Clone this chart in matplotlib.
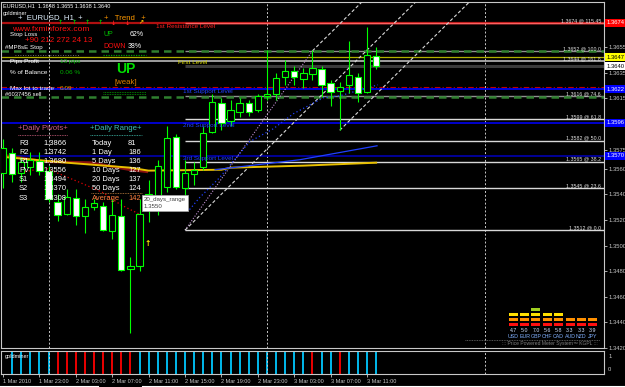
import matplotlib
matplotlib.use("Agg")
import matplotlib.pyplot as plt
from matplotlib.patches import Rectangle
from matplotlib.transforms import blended_transform_factory

plt.rcParams['font.family'] = ['Liberation Sans Narrow', 'Liberation Sans', 'DejaVu Sans']

W, H = 625, 387

# ---------------- data ----------------
symbol = "EURUSD"
period = "H1"

opens = [1.3557, 1.3572, 1.3557, 1.3561, 1.3566, 1.3558, 1.3534, 1.3525, 1.3537, 1.3523,
         1.3530, 1.3531, 1.3511, 1.3523, 1.3482, 1.3484, 1.3532, 1.3538, 1.3546, 1.3585,
         1.3545, 1.3556, 1.3561, 1.3589, 1.3611, 1.3597, 1.3604, 1.3611, 1.3606, 1.3617,
         1.3618, 1.3632, 1.3636, 1.3630, 1.3634, 1.3638, 1.3627, 1.3621, 1.3625, 1.3632,
         1.3620, 1.3648]
highs = [1.3583, 1.3576, 1.3569, 1.3573, 1.3573, 1.3562, 1.3540, 1.3544, 1.3544, 1.3536,
         1.3536, 1.3534, 1.3536, 1.3536, 1.3491, 1.3536, 1.3551, 1.3567, 1.3593, 1.3587,
         1.3567, 1.3565, 1.3593, 1.3618, 1.3615, 1.3614, 1.3615, 1.3614, 1.3618, 1.3653,
         1.3635, 1.3645, 1.3640, 1.3639, 1.3653, 1.3640, 1.3629, 1.3628, 1.3660, 1.3635,
         1.3671, 1.3655]
lows = [1.3545, 1.3550, 1.3550, 1.3555, 1.3555, 1.3534, 1.3519, 1.3524, 1.3516, 1.3510,
        1.3528, 1.3511, 1.3505, 1.3480, 1.3432, 1.3480, 1.3518, 1.3524, 1.3542, 1.3544,
        1.3536, 1.3547, 1.3559, 1.3588, 1.3590, 1.3593, 1.3600, 1.3601, 1.3604, 1.3614,
        1.3614, 1.3625, 1.3625, 1.3623, 1.3629, 1.3616, 1.3609, 1.3590, 1.3619, 1.3612,
        1.3619, 1.3638]
closes = [1.3576, 1.3556, 1.3565, 1.3567, 1.3558, 1.3536, 1.3524, 1.3538, 1.3523, 1.3530,
          1.3533, 1.3512, 1.3524, 1.3481, 1.3484, 1.3525, 1.3540, 1.3562, 1.3584, 1.3546,
          1.3557, 1.3559, 1.3588, 1.3612, 1.3596, 1.3606, 1.3611, 1.3604, 1.3617, 1.3618,
          1.3631, 1.3636, 1.3632, 1.3635, 1.3639, 1.3625, 1.3620, 1.3624, 1.3633, 1.3619,
          1.3649, 1.3640]

time_ticks = [0, 4, 8, 12, 16, 20, 24, 28, 32, 36, 40]
time_labels = ["1 Mar 2010", "1 Mar 23:00", "2 Mar 03:00", "2 Mar 07:00", "2 Mar 11:00",
               "2 Mar 15:00", "2 Mar 19:00", "2 Mar 23:00", "3 Mar 03:00", "3 Mar 07:00",
               "3 Mar 11:00"]
day_starts = [5, 29, 53]

# goldminer sub-window: 1 = up (cyan), -1 = down (red), 0 = nothing
goldminer = [0, 1, 1, 1, 1, 1, -1, -1, -1, -1, -1, -1, -1, -1, -1, 1, 1, 1, 1, 1,
             1, 1, 1, 1, 1, 1, 1, 1, 1, 1, 1, 1, 1, 1, -1, 1, 1, -1, 1, 1, 1, 1]

# fibonacci retracement / pitchfork anchors (bar, price)
fib_a = (20, 1.3512)
fib_b = (34, 1.3652)
pitch_c = (37, 1.3590)
fib_levels = [0.0, 23.6, 38.2, 50.0, 61.8, 74.6, 100.0, 115.45]
extra_level = (1.3644, "161.8")

res1 = 1.3674
first_level = 1.3647
sup_levels = [1.3622, 1.3596, 1.3570]
sup_names = ["1st Support Level", "2nd Support Level", "3rd Support Level"]
green_dash_levels = [1.3652, 1.3616]
red_dashdot_level = 1.3624

plain_ticks = [1.3655, 1.3635, 1.3615, 1.3575, 1.3560, 1.3540, 1.3520, 1.3500,
               1.3480, 1.3460, 1.3440, 1.3420]

# indicator lines, vertices as (bar, price)
yellow_ma = [(-0.3, 1.35694), (7, 1.35647), (14, 1.35608), (16, 1.35585), (24, 1.35592),
             (25, 1.35608), (33, 1.35624), (41, 1.35647)]
darkred_ma = [(-0.3, 1.35709), (4.6, 1.35655), (9.6, 1.35647), (14, 1.35592), (15.8, 1.35577)]
red_dots = [(0.8, 1.35553), (4.6, 1.35608), (8.5, 1.35491), (11, 1.35413), (12.9, 1.35320),
            (15.3, 1.35234)]
blue_dots = [(20.5, 1.35281), (21.6, 1.35374), (23.8, 1.35530), (27.1, 1.35811),
             (29.7, 1.35912), (31.9, 1.36029), (35.2, 1.36154), (37.0, 1.36169), (41.2, 1.36255)]
blue_line = [(23.3, 1.35592), (32.6, 1.35670), (41.1, 1.35779)]

pivot_names = ["R3", "R2", "R1", "PV", "S1", "S2", "S3"]
pivot_values = [1.3866, 1.3742, 1.3680, 1.3556, 1.3494, 1.3370, 1.3308]
range_names = ["Today", "1 Day", "5 Days", "10 Days", "20 Days", "50 Days", "Average"]
range_values = [81, 186, 136, 127, 137, 124, 142]

trend_arrows = ["up", "up", "up", "up", "dn", "dn", "flat"]
trend_up, trend_dn = 62, 38

currencies = ["USD", "EUR", "GBP", "CHF", "CAD", "AUD", "NZD", "JPY"]
strength = [4.7, 5.0, 7.0, 5.6, 5.8, 3.3, 3.3, 3.9]
meter_blocks = [3, 3, 4, 3, 3, 2, 2, 2]

# ---------------- figure ----------------
fig = plt.figure(figsize=(W / 100, H / 100), dpi=100, facecolor='black')


def fx(x):
    return x / W


def fy(y):
    return 1 - y / H


def ptext(x, y, s, color='white', size=4.6, **kw):
    kw.setdefault('va', 'center')
    kw.setdefault('ha', 'left')
    fig.text(fx(x), fy(y), s, color=color, fontsize=size, **kw)


def fline(x0, x1, y, color, lw=0.6, ls=(0, (1, 1))):
    fig.lines.append(plt.Line2D([fx(x0), fx(x1)], [fy(y), fy(y)], color=color, lw=lw,
                                ls=ls, transform=fig.transFigure))


ax = fig.add_axes([fx(1), fy(348), 603 / W, 346 / H], facecolor='black')
ax.set_xlim(-0.22, 66.04)
ax.set_ylim(1.342050, 1.369018)
for s in ax.spines.values():
    s.set_color('#c8c8c8')
    s.set_linewidth(0.8)
ax.set_xticks([])
ax.yaxis.tick_right()
ax.set_yticks(plain_ticks)
ax.set_yticklabels(["%.4f" % v for v in plain_ticks])
ax.tick_params(axis='y', colors='#c8c8c8', labelsize=4.2, length=2, width=0.6, pad=1)
right = blended_transform_factory(ax.transAxes, ax.transData)

# day separators
for d in day_starts:
    ax.axvline(d, color='#c8c8c8', lw=0.7, ls=(0, (2, 2)), zorder=1)

# fibonacci levels
span = fib_b[1] - fib_a[1]
for lev in fib_levels:
    p = fib_a[1] + span * lev / 100.0
    col = '#ff5050' if lev > 100 else ('#909090' if lev in (100.0, 74.6) else '#d8d8d8')
    ax.hlines(p, fib_a[0], 70, color=col, lw=1.0, zorder=2)
    ax.text(0.995, p, "%.4f @ %s" % (p, ("%.2f" % lev) if lev > 100 else ("%.1f" % lev)),
            transform=right, ha='right', va='bottom', color='#e0e0e0', fontsize=3.8, zorder=5)
ax.plot([fib_a[0], fib_b[0]], [fib_a[1], fib_b[1]], color='#c090d0', lw=0.8, ls=(0, (1, 1.5)), zorder=3)

# extra grey line + bid line
ax.axhline(extra_level[0], color='#b8b8b8', lw=1.2, zorder=2)
ax.text(0.995, extra_level[0], "%.4f @ %s" % extra_level, transform=right, ha='right',
        va='bottom', color='#e0e0e0', fontsize=3.8, zorder=5)
ax.hlines(closes[-1], fib_a[0], 70, color='#3a3a3a', lw=2.2, zorder=2)

# resistance / supports
ax.axhline(res1, color='#b01010', lw=1.6, zorder=2)
ax.hlines(res1, fib_a[0], 70, color='#ff6060', lw=1.0, zorder=2)
ax.axhline(first_level, color='#b0b000', lw=0.9, zorder=2)
for p in green_dash_levels:
    ax.axhline(p, color='#2f7f2f', lw=1.8, ls=(0, (3, 2)), zorder=2)
ax.axhline(red_dashdot_level, color='#c00000', lw=0.8, ls=(0, (5, 2, 1, 2)), zorder=2)
for p, c in zip(sup_levels, ['#0000ff', '#0000ee', '#0000b0']):
    ax.axhline(p, color=c, lw=1.2, zorder=2)

# pitchfork
slope = ((fib_b[1] + pitch_c[1]) / 2 - fib_a[1]) / ((fib_b[0] + pitch_c[0]) / 2 - fib_a[0])
for (x0, y0) in (fib_a, fib_b, pitch_c):
    ax.plot([x0, 70], [y0, y0 + slope * (70 - x0)], color='#d8d8d8', lw=0.8,
            ls=(0, (3, 2)), zorder=3)

# indicator lines
ax.plot(*zip(*darkred_ma), color='#8b1010', lw=2.0, zorder=3)
ax.plot(*zip(*yellow_ma), color='#e8c000', lw=1.4, zorder=3)
ax.plot(*zip(*red_dots), color='#e00000', lw=0.9, ls=(0, (1, 2)), zorder=3)
ax.plot(*zip(*blue_dots), color='#2040ff', lw=0.9, ls=(0, (1, 2)), zorder=3)
ax.plot(*zip(*blue_line), color='#2040ff', lw=0.9, zorder=3)

# candles
for i in range(len(opens)):
    o, h, l, c = opens[i], highs[i], lows[i], closes[i]
    ax.vlines(i, l, h, color='#00ff00', lw=0.8, zorder=4)
    bottom = min(o, c)
    height = max(abs(c - o), 0.00003)
    face = 'white' if c < o else 'black'
    ax.add_patch(Rectangle((i - 0.35, bottom), 0.7, height, facecolor=face,
                           edgecolor='#00ff00', lw=0.8, zorder=5))

# level labels on the chart
ptext(156, 26, "1st Resistance Level", '#ff2020', 4.6)
ptext(178, 62, "First Level", '#d8d800', 4.6)
for p, name in zip(sup_levels, sup_names):
    ax.text(19.8, p, name, color='#2040ff', fontsize=4.6, va='top', ha='left', zorder=6)

# coloured price boxes on the right axis
boxes = [(res1, '#ff0000', 'white'), (first_level, '#ffff00', 'black'),
         (closes[-1], '#ffffff', 'black')] + [(p, '#0000ff', 'white') for p in sup_levels]
for p, bg, tc in boxes:
    ax.text(1.004, p, "%.4f" % p, transform=right, ha='left', va='center', color=tc,
            fontsize=4.2, clip_on=False,
            bbox=dict(boxstyle='square,pad=0.25', fc=bg, ec='none'))

# ---------------- info panel (left) ----------------
ptext(3, 6, "%s,%s  %.4f %.4f %.4f %.4f" % (symbol, period, opens[-1], highs[-1], lows[-1], closes[-1]),
      'white', 4.0)
ptext(3, 13, "goldminer", 'white', 4.0)
ptext(18, 18.5, "+  %s  %s  +" % (symbol, period), '#e0f0ff', 5.6)
ptext(104, 18.5, "+   Trend   +", '#ff9900', 5.6)
arrow_style = {"up": ("\u2191", '#00c000'), "dn": ("\u2193", '#ff2020'), "flat": ("\u2197", '#ffcc00')}
for k, a in enumerate(trend_arrows):
    ch, col = arrow_style[a]
    ptext(58 + 13.3 * k, 23, ch, col, 4.4, family='DejaVu Sans', fontweight='bold')
ptext(12, 29.5, "www.fxminforex.com", '#ff1010', 6.0)
ptext(10, 34.5, "Stop Loss", 'white', 4.4)
ptext(25, 41, "+90 212 272 24 13", '#ff1010', 5.8)
ptext(5, 47.5, "#MP8sE Stop", 'white', 4.4)
ptext(103, 34, "UP", '#00c000', 5.0)
ptext(130, 34, "%d%%" % trend_up, 'white', 5.0)
ptext(103, 46, "DOWN", '#ff1010', 5.0)
ptext(128, 46, "%d%%" % trend_dn, 'white', 5.0)
fline(15, 80, 55, '#909090', 0.6, (0, (1, 2)))
fline(103, 146, 55, '#00a000', 0.9)
ptext(10, 62, "Pips Profit", 'white', 4.6)
ptext(60, 62, "13 pips", '#00b000', 4.6)
ptext(126, 69, "UP", '#00e000', 10, ha='center', fontweight='bold')
ptext(10, 73, "% of Balance", 'white', 4.6)
ptext(60, 73, "0.06 %", '#00b000', 4.6)
ptext(126, 83, "[weak]", '#e08000', 5.6, ha='center')
ptext(10, 88, "Max lot to trade", 'white', 4.6)
ptext(60, 88, "0.09", '#c8a000', 4.6)
ptext(5, 95, "#6037456 sell", 'white', 4.2)
for yy in (92, 94):
    fline(103, 146, yy, '#00a000')

# daily pivots / daily range tables
ptext(18, 129, "+Daily Pivots+", '#d06080', 5.6)
ptext(90, 129, "+Daily Range+", '#40c0b0', 5.6)
fline(18, 68, 135, '#d06080')
fline(90, 142, 135, '#40c0b0')
for k, (n, v) in enumerate(zip(pivot_names, pivot_values)):
    yy = 143.5 + 9.1 * k
    ptext(19, yy, n, 'white', 5.4, zorder=6)
    ptext(43, yy, "%.4f" % v, 'white', 5.4, zorder=6)
for k, (n, v) in enumerate(zip(range_names, range_values)):
    yy = 143.5 + 9.1 * k
    col = '#ff8040' if n == "Average" else 'white'
    ptext(92, yy, n, col, 5.4, zorder=6)
    ptext(128, yy, "%d" % v, col, 5.4, zorder=6)
fline(91, 142, 193, '#c08040')

# tooltip and arrow object
ptext(144, 203, "20_days_range\n1.3550", '#404040', 4.4, linespacing=1.5,
      bbox=dict(boxstyle='square,pad=0.4', fc='white', ec='#a0a0a0', lw=0.6), zorder=8)
ptext(148, 244, "\u2191", '#ffee00', 5.5, ha='center', family='DejaVu Sans', fontweight='bold')

# ---------------- currency meter ----------------
axm = fig.add_axes([fx(507.5), fy(327), 91 / W, 20 / H])
axm.set_xlim(-0.5, 7.5)
axm.set_ylim(0, 4)
axm.axis('off')
row_colors = ['#ff1010', '#ff9000', '#ffe000', '#a0d020']
for r in range(4):
    idx = [c for c in range(len(currencies)) if meter_blocks[c] > r]
    axm.bar(idx, 0.7, bottom=r + 0.15, width=0.8, color=row_colors[r])
for c, (cur, v) in enumerate(zip(currencies, strength)):
    xc = 513.5 + 11.3 * c
    ptext(xc, 331, "%.1f" % v, '#d0e0ff', 3.8, ha='center')
    ptext(xc, 337, cur, '#80b0ff', 3.8, ha='center')
fline(465, 600, 340, '#707070')
ptext(598, 344, "::: Price Powered Meter System\u2122 KGPL :::", '#808080', 3.6, ha='right')

# ---------------- goldminer sub-window ----------------
ax2 = fig.add_axes([fx(1), fy(374), 603 / W, 23 / H], facecolor='black')
ax2.set_xlim(-0.22, 66.04)
ax2.set_ylim(0, 1)
for s in ax2.spines.values():
    s.set_color('#c8c8c8')
    s.set_linewidth(0.8)
for i, g in enumerate(goldminer):
    if g != 0:
        ax2.vlines(i, 0, 1, color='#00c8ff' if g > 0 else '#ff0000', lw=1.3)
for d in day_starts:
    ax2.axvline(d, color='#c8c8c8', lw=0.7, ls=(0, (2, 2)))
ax2.text(0.006, 0.75, "goldminer", transform=ax2.transAxes, color='white', fontsize=4.0,
         va='center', ha='left')
ax2.yaxis.tick_right()
ax2.set_yticks([0.2, 0.8])
ax2.set_yticklabels(["0", "1"])
ax2.tick_params(axis='y', colors='#c8c8c8', labelsize=4.2, length=0, pad=3)
ax2.set_xticks(time_ticks)
ax2.set_xticklabels(time_labels)
ax2.tick_params(axis='x', colors='#c8c8c8', labelsize=4.0, length=2, width=0.6, pad=1.5)
for lab in ax2.get_xticklabels():
    lab.set_ha('left')

# bottom tab strip
fline(0, 98, 385.5, 'white', 0.8, '-')
fline(142, 625, 385.5, 'white', 0.8, '-')

fig.savefig("out.png", dpi=100, facecolor='black')
